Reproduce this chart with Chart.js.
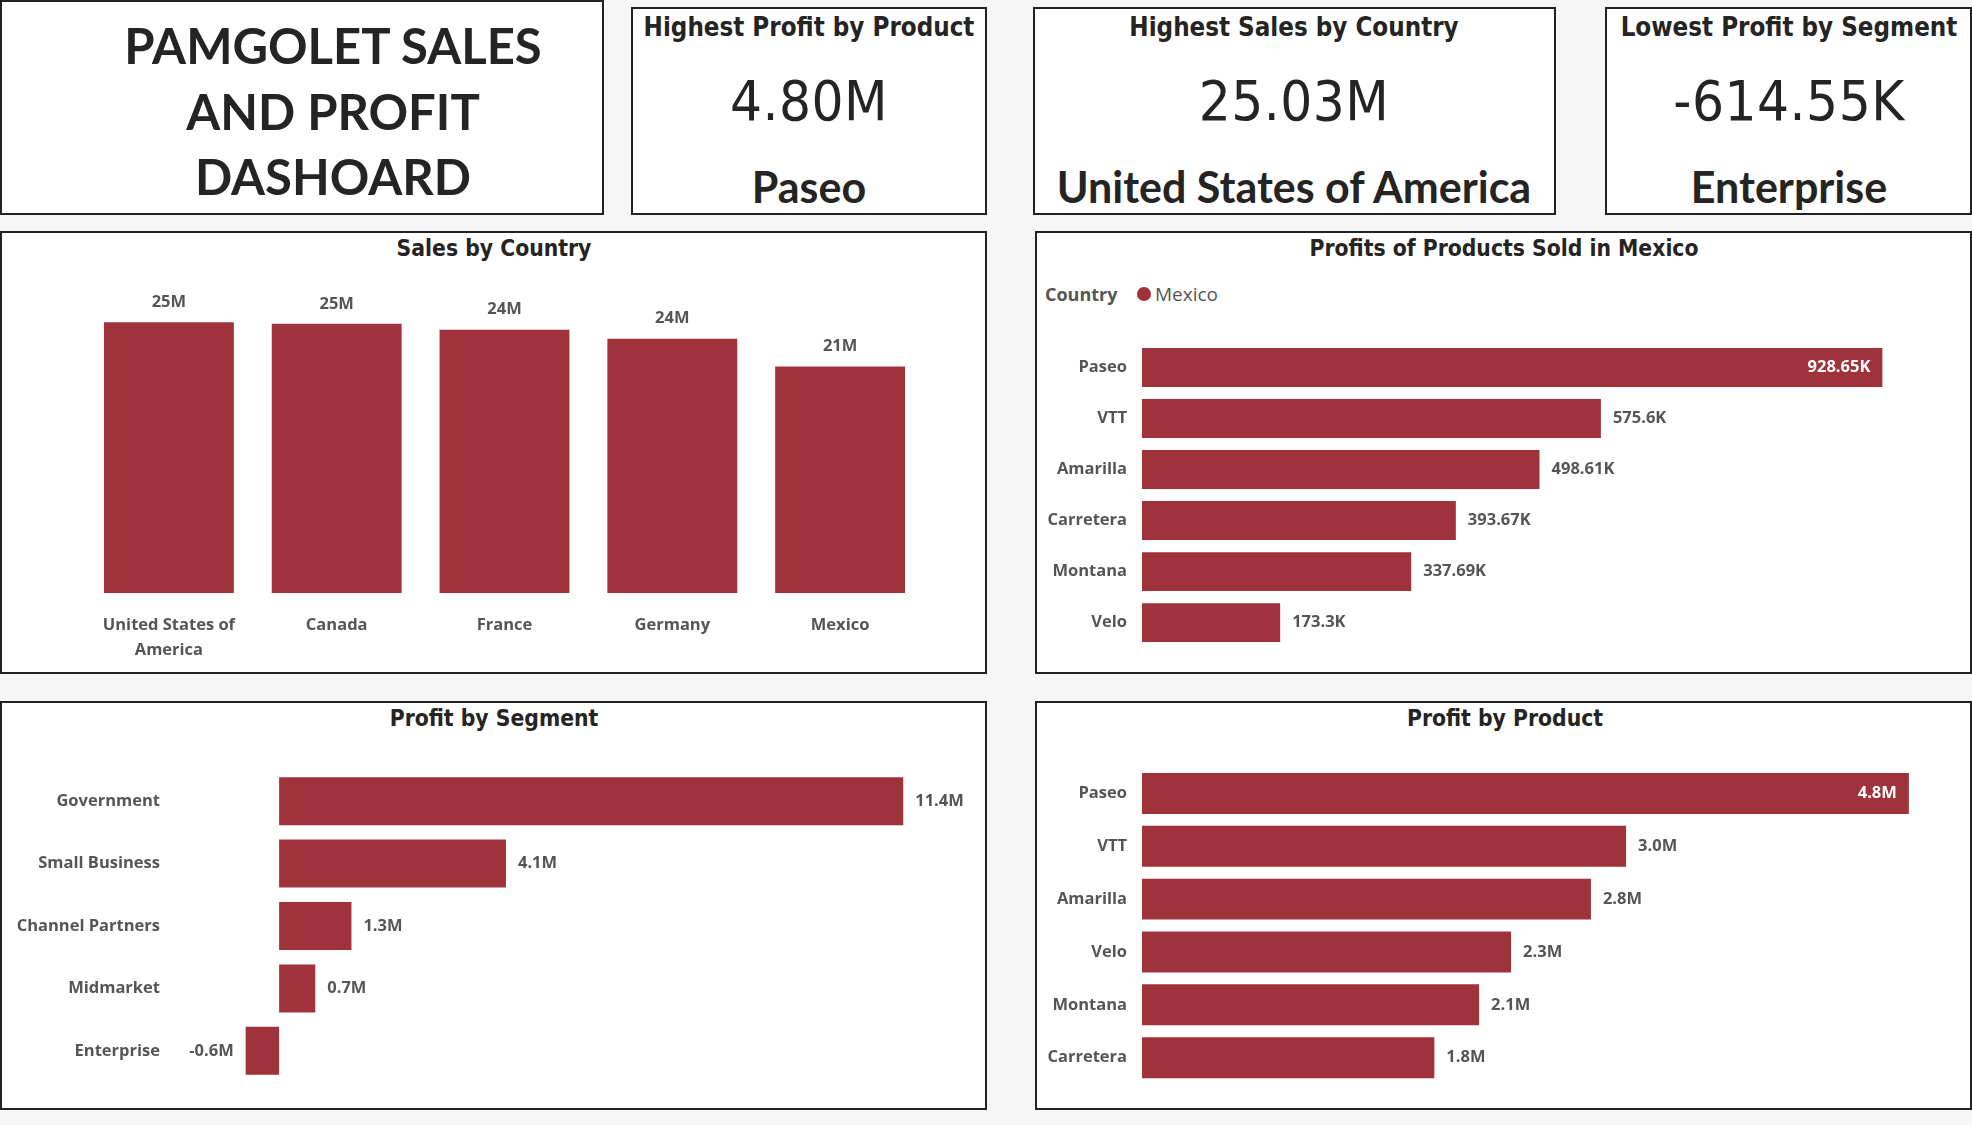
<!DOCTYPE html>
<html>
<head>
<meta charset="utf-8">
<script src="https://cdn.jsdelivr.net/npm/chart.js@4.4.1/dist/chart.umd.min.js"></script>
<style>
  body { margin: 0; width: 1972px; height: 1125px; background: #f6f6f6; position: relative; overflow: hidden; }
  .card { position: absolute; box-sizing: border-box; border: 2px solid #222; background: #fff; }
  .txt { position: absolute; transform: translate(-50%, -50%); white-space: nowrap; line-height: 1; color: #252423; }
  .big { font-family: Lato, sans-serif; font-weight: 700; font-size: 49px; }
  .kpiTitle { font-family: 'DejaVu Sans Condensed', 'DejaVu Sans', sans-serif; font-weight: bold; font-size: 25.7px; }
  .kpiValue { font-family: 'DejaVu Sans Condensed', 'DejaVu Sans', sans-serif; font-size: 56px; letter-spacing: 0.5px; }
  .kpiLabel { font-family: Lato, sans-serif; font-weight: 700; font-size: 43px; }
  .chartTitle { font-family: 'DejaVu Sans Condensed', 'DejaVu Sans', sans-serif; font-weight: bold; font-size: 22.7px; }
  .box { position: absolute; }
  .legend { position: absolute; font-family: 'Open Sans', sans-serif; color: #555; transform: translateY(-50%); line-height: 1; }
</style>
</head>
<body>
<div class="card" style="left:0;top:0;width:604px;height:215px"></div>
<div class="card" style="left:631px;top:7px;width:356px;height:208px"></div>
<div class="card" style="left:1033px;top:7px;width:523px;height:208px"></div>
<div class="card" style="left:1605px;top:7px;width:367px;height:208px"></div>
<div class="card" style="left:0;top:231px;width:987px;height:443px"></div>
<div class="card" style="left:1035px;top:231px;width:937px;height:443px"></div>
<div class="card" style="left:0;top:701px;width:987px;height:409px"></div>
<div class="card" style="left:1035px;top:701px;width:937px;height:409px"></div>

<div class="txt big" style="left:333px;top:45px">PAMGOLET SALES</div>
<div class="txt big" style="left:333px;top:111px">AND PROFIT</div>
<div class="txt big" style="left:333px;top:176px">DASHOARD</div>

<div class="txt kpiTitle" style="left:809px;top:28px">Highest Profit by Product</div>
<div class="txt kpiValue" style="left:809px;top:101px">4.80M</div>
<div class="txt kpiLabel" style="left:809px;top:186px">Paseo</div>

<div class="txt kpiTitle" style="left:1294px;top:28px">Highest Sales by Country</div>
<div class="txt kpiValue" style="left:1294px;top:101px">25.03M</div>
<div class="txt kpiLabel" style="left:1294px;top:186px">United States of America</div>

<div class="txt kpiTitle" style="left:1789px;top:28px">Lowest Profit by Segment</div>
<div class="txt kpiValue" style="left:1789px;top:101px">-614.55K</div>
<div class="txt kpiLabel" style="left:1789px;top:186px">Enterprise</div>

<div class="txt chartTitle" style="left:494px;top:248px">Sales by Country</div>
<div class="txt chartTitle" style="left:1504px;top:248px">Profits of Products Sold in Mexico</div>
<div class="txt chartTitle" style="left:494px;top:718px">Profit by Segment</div>
<div class="txt chartTitle" style="left:1505px;top:718px">Profit by Product</div>

<div class="legend" style="left:1045px;top:294px;font-weight:bold;font-size:18px">Country</div>
<div style="position:absolute;left:1137px;top:287px;width:14px;height:14px;border-radius:50%;background:#a0323c"></div>
<div class="legend" style="left:1155px;top:294px;font-size:19px">Mexico</div>

<div class="box" style="left:0;top:232px;width:986px;height:441px"><canvas id="salesChart"></canvas></div>
<div class="box" style="left:1036px;top:232px;width:936px;height:441px"><canvas id="mexicoChart"></canvas></div>
<div class="box" style="left:0;top:702px;width:986px;height:407px"><canvas id="segmentChart"></canvas></div>
<div class="box" style="left:1036px;top:702px;width:936px;height:407px"><canvas id="productChart"></canvas></div>

<script>
// Sales by country (millions)
const countries = [['United States of', 'America'], 'Canada', 'France', 'Germany', 'Mexico'];
const countrySales = [25.03, 24.89, 24.35, 23.51, 20.95];

// Profits of products sold in Mexico (thousands)
const mexicoProducts = ['Paseo', 'VTT', 'Amarilla', 'Carretera', 'Montana', 'Velo'];
const mexicoProfit = [928.65, 575.60, 498.61, 393.67, 337.69, 173.30];

// Profit by segment (millions)
const segments = ['Government', 'Small Business', 'Channel Partners', 'Midmarket', 'Enterprise'];
const segmentProfit = [11.39, 4.14, 1.32, 0.66, -0.61];

// Profit by product (millions)
const products = ['Paseo', 'VTT', 'Amarilla', 'Velo', 'Montana', 'Carretera'];
const productProfit = [4.80, 3.03, 2.81, 2.31, 2.11, 1.83];

const barColor = '#a0323c';
const labelFont = { family: 'Open Sans', weight: 'bold', size: 16.5 };

// draws the value next to / above each bar
const valueLabels = {
  id: 'valueLabels',
  afterDatasetsDraw(chart, args, opts) {
    const ctx = chart.ctx;
    const meta = chart.getDatasetMeta(0);
    const values = chart.data.datasets[0].data;
    ctx.save();
    ctx.font = 'bold 16.5px "Open Sans"';
    ctx.textBaseline = 'middle';
    meta.data.forEach((bar, i) => {
      const v = values[i];
      const text = opts.format(v);
      ctx.fillStyle = '#555';
      if (chart.options.indexAxis === 'y') {
        if (opts.insideFirst && i === 0) {
          ctx.fillStyle = '#fff';
          ctx.textAlign = 'right';
          ctx.fillText(text, bar.x - 12, bar.y);
        } else if (v < 0) {
          ctx.textAlign = 'right';
          ctx.fillText(text, bar.x - 12, bar.y);
        } else {
          ctx.textAlign = 'left';
          ctx.fillText(text, bar.x + 12, bar.y);
        }
      } else {
        ctx.textAlign = 'center';
        ctx.fillText(text, bar.x, bar.y - 20);
      }
    });
    ctx.restore();
  }
};

function hBar(id, labels, values, opts) {
  return new Chart(document.getElementById(id), {
    type: 'bar',
    plugins: [valueLabels],
    data: {
      labels: labels,
      datasets: [{ data: values, backgroundColor: barColor, barPercentage: opts.bar, categoryPercentage: 1 }]
    },
    options: {
      indexAxis: 'y',
      responsive: true,
      maintainAspectRatio: false,
      animation: false,
      layout: { padding: opts.padding },
      plugins: {
        legend: { display: false },
        tooltip: { enabled: false },
        valueLabels: { format: opts.format, insideFirst: opts.insideFirst }
      },
      scales: {
        x: { display: false, min: opts.min, max: opts.max },
        y: {
          afterFit: s => { s.width = opts.axisWidth; },
          grid: { display: false, drawTicks: false },
          border: { display: false },
          ticks: { color: '#555', font: labelFont, padding: 15 }
        }
      }
    }
  });
}

new Chart(document.getElementById('salesChart'), {
  type: 'bar',
  plugins: [valueLabels],
  data: {
    labels: countries,
    datasets: [{ data: countrySales, backgroundColor: barColor, barPercentage: 0.774, categoryPercentage: 1 }]
  },
  options: {
    responsive: true,
    maintainAspectRatio: false,
    animation: false,
    layout: { padding: { left: 85, right: 62, top: 69, bottom: 0 } },
    plugins: {
      legend: { display: false },
      tooltip: { enabled: false },
      valueLabels: { format: v => Math.round(v) + 'M' }
    },
    scales: {
      y: { display: false, min: 0, max: 27 },
      x: {
        afterFit: s => { s.height = 80; },
        grid: { display: false, drawTicks: false },
        border: { display: false },
        ticks: { color: '#555', font: { family: 'Open Sans', weight: 'bold', size: 16.5, lineHeight: '25px' }, padding: 20, maxRotation: 0 }
      }
    }
  }
});

hBar('mexicoChart', mexicoProducts, mexicoProfit, {
  bar: 0.762, min: 0, max: 1016, axisWidth: 106, insideFirst: true,
  padding: { left: 0, right: 20, top: 110, bottom: 24 },
  format: v => parseFloat(v.toFixed(2)) + 'K'
});

hBar('segmentChart', segments, segmentProfit, {
  bar: 0.77, min: -1.9, max: 12.7, axisWidth: 175, insideFirst: false,
  padding: { left: 0, right: 11, top: 68, bottom: 27 },
  format: v => v.toFixed(1) + 'M'
});

hBar('productChart', products, productProfit, {
  bar: 0.774, min: 0, max: 5.07, axisWidth: 106, insideFirst: true,
  padding: { left: 0, right: 20, top: 65, bottom: 24 },
  format: v => v.toFixed(1) + 'M'
});
</script>
</body>
</html>
